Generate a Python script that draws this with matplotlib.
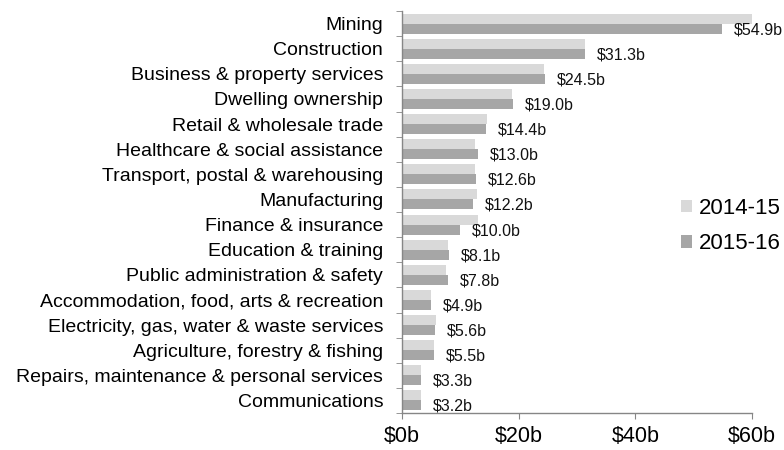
import matplotlib
matplotlib.use("Agg")
import matplotlib.pyplot as plt
import numpy as np

plt.rcParams['font.family'] = ['Liberation Sans', 'DejaVu Sans']

industries = [
    "Mining", "Construction", "Business & property services", "Dwelling ownership",
    "Retail & wholesale trade", "Healthcare & social assistance",
    "Transport, postal & warehousing", "Manufacturing", "Finance & insurance",
    "Education & training", "Public administration & safety",
    "Accommodation, food, arts & recreation", "Electricity, gas, water & waste services",
    "Agriculture, forestry & fishing", "Repairs, maintenance & personal services",
    "Communications",
]
fy_2014_15 = [60.1, 31.4, 24.4, 18.8, 14.6, 12.5, 12.5, 12.8, 13.0, 7.9, 7.5, 4.9, 5.8, 5.4, 3.3, 3.3]
fy_2015_16 = [54.9, 31.3, 24.5, 19.0, 14.4, 13.0, 12.6, 12.2, 10.0, 8.1, 7.8, 4.9, 5.6, 5.5, 3.3, 3.2]
series_names = ["2014-15", "2015-16"]
x_ticks = [0, 20, 40, 60]

light = "#d9d9d9"
dark = "#a6a6a6"
axis_col = "#868686"

fig = plt.figure(figsize=(7.84, 4.5), dpi=100)
ax = fig.add_axes([402 / 784, 1 - 413 / 450, 350 / 784, 402 / 450])

y = np.arange(len(industries))
h = 0.4
ax.barh(y - h / 2, fy_2014_15, height=h, color=light, label=series_names[0])
bars = ax.barh(y + h / 2, fy_2015_16, height=h, color=dark, label=series_names[1])

for yy, v in zip(y, fy_2015_16):
    ax.annotate(f"${v:.1f}b", (v, yy + h / 2), xytext=(12, -1), textcoords="offset pixels",
                ha="left", va="center", fontsize=11.5, color="#111111")

ax.set_xlim(0, 60)
ax.set_ylim(len(industries) - 0.5, -0.5)

ax.set_yticks(y)
ax.set_yticklabels(industries, fontsize=14)
ax.set_yticks(np.arange(-0.5, len(industries)), minor=True)
ax.tick_params(axis="y", which="major", length=0, pad=13.5)
ax.tick_params(axis="y", which="minor", length=4, color=axis_col, direction="out")

ax.set_xticks(x_ticks)
ax.set_xticklabels([f"${t}b" for t in x_ticks], fontsize=15.5)
ax.tick_params(axis="x", length=4, color=axis_col, direction="out", pad=5)

for s in ["top", "right"]:
    ax.spines[s].set_visible(False)
for s in ["left", "bottom"]:
    ax.spines[s].set_color(axis_col)
    ax.spines[s].set_linewidth(1)

fig.legend(loc="upper left", bbox_to_anchor=(681 / 784, 1 - 198 / 450), frameon=False,
           fontsize=16, handlelength=0.5, handleheight=0.5, handletextpad=0.3,
           labelspacing=0.65, borderpad=0, borderaxespad=0)

fig.savefig("out.png", dpi=100)
